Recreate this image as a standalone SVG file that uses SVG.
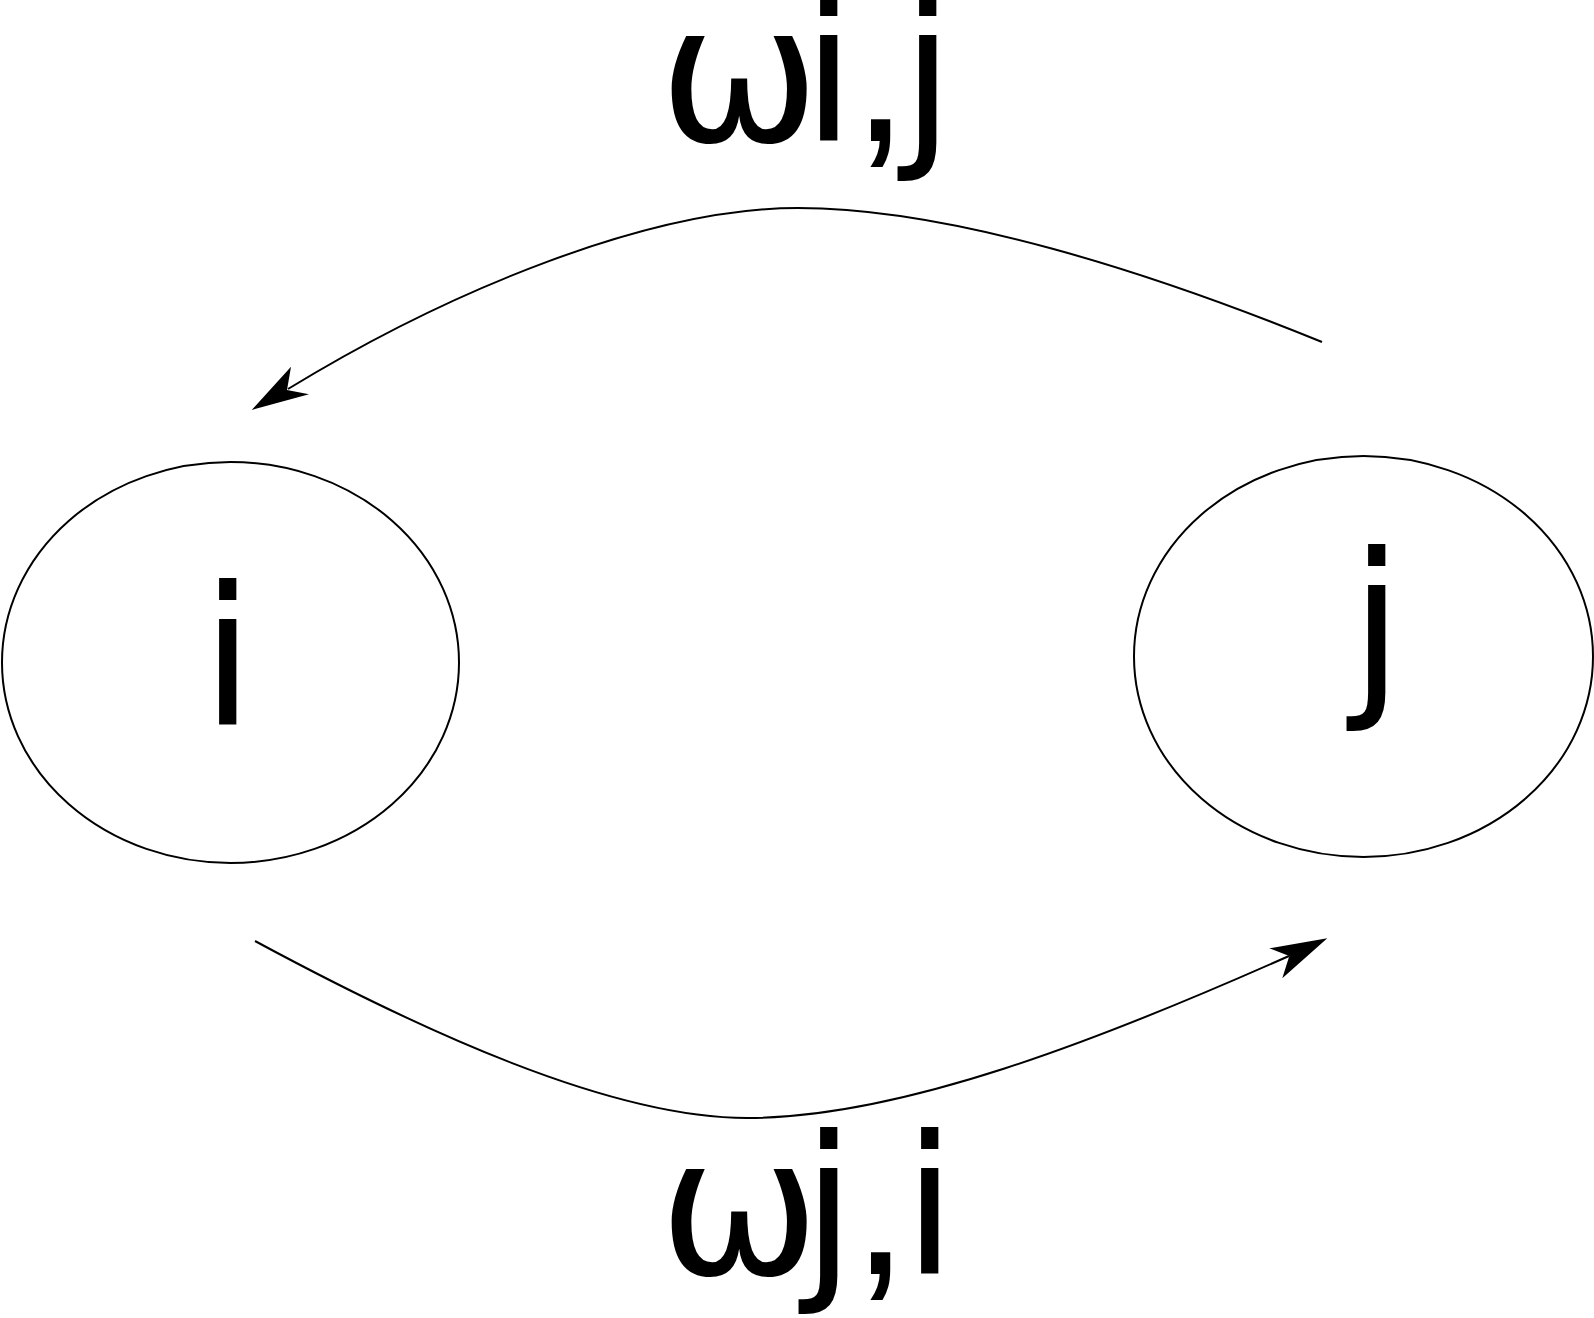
<svg xmlns="http://www.w3.org/2000/svg" width="1594" height="1318" viewBox="0 0 1594 1318">
<style>
.node{fill:none;stroke:#000;stroke-width:2}
.edge{fill:none;stroke:#000;stroke-width:2}
.head{fill:#000;stroke:none}
.t{font-family:"DejaVu Sans",sans-serif;font-size:192px;fill:#000}
.c{font-family:"Liberation Sans",Arial,sans-serif;font-size:202px}
</style>
<rect width="1594" height="1318" fill="#fff"/>
<g id="node-i">
<ellipse class="node" cx="230.5" cy="662.5" rx="228.5" ry="200.5"/>
<text class="t" x="201" y="725">i</text>
</g>
<g id="node-j">
<ellipse class="node" cx="1363.5" cy="656.5" rx="229.5" ry="200.5"/>
<text class="t" x="1350" y="691">j</text>
</g>
<g id="connectors">
<path class="edge" d="M1322,342 C1150,272 950,208 798,208 C650,208 450,290 288,389"/>
<polygon class="head" points="251.7,410 291,366.7 287,390 309,394.3"/>
<path class="edge" d="M255,941 C420,1030 610,1118 747,1118 C900,1118 1100,1040 1289,956"/>
<polygon class="head" points="1327.3,938.3 1269.3,948.3 1289.3,956 1282.3,978.3"/>
</g>
<g id="label-wij">
<text class="t" y="141"><tspan x="659">ω</tspan><tspan x="802">i</tspan><tspan class="c" x="852.3">,</tspan><tspan x="901">j</tspan></text>
</g>
<g id="label-wji">
<text class="t" y="1274"><tspan x="659">ω</tspan><tspan x="802">j</tspan><tspan class="c" x="852.3">,</tspan><tspan x="903">i</tspan></text>
</g>
</svg>
